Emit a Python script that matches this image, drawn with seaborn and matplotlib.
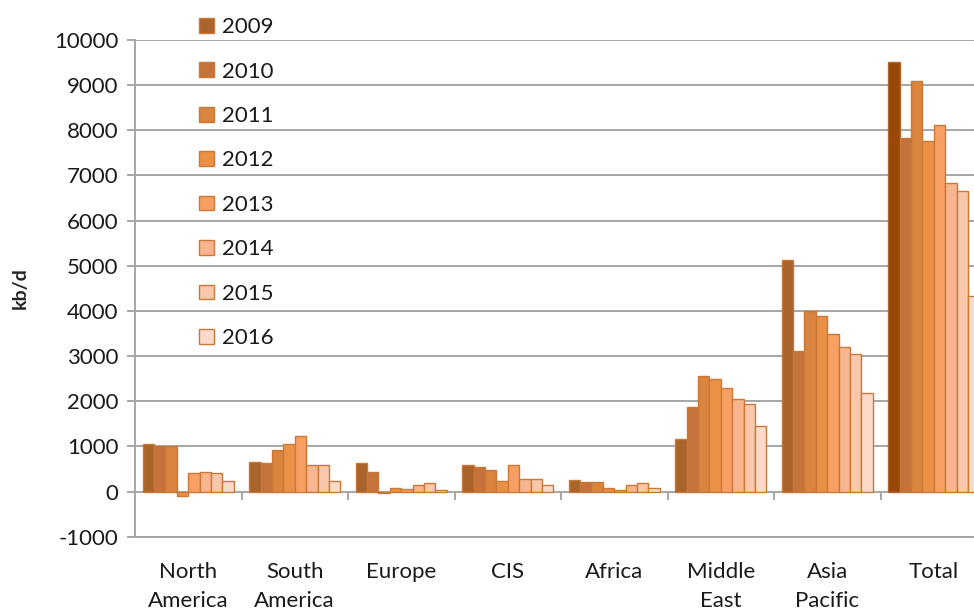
import matplotlib
matplotlib.use("Agg")
import matplotlib.pyplot as plt
import seaborn as sns
import pandas as pd
import numpy as np

regions = ["North\nAmerica", "South\nAmerica", "Europe", "CIS", "Africa",
           "Middle\nEast", "Asia\nPacific", "Total"]
years = ["2009", "2010", "2011", "2012", "2013", "2014", "2015", "2016"]

v2009 = [1055, 664, 642, 590, 250, 1172, 5133, 9513]
v2010 = [1000, 642, 428, 553, 221, 1865, 3104, 7825]
v2011 = [1000, 914, -30, 472, 221, 2551, 3989, 9100]
v2012 = [-90, 1055, 81, 228, 88, 2500, 3879, 7765]
v2013 = [413, 1224, 59, 583, 37, 2300, 3488, 8119]
v2014 = [442, 590, 140, 273, 147, 2050, 3193, 6843]
v2015 = [420, 590, 199, 273, 199, 1940, 3046, 6659]
v2016 = [228, 228, 37, 147, 88, 1445, 2190, 4321]

series = [v2009, v2010, v2011, v2012, v2013, v2014, v2015, v2016]
colors = ["#A9642B", "#C4733A", "#D9843F", "#EB9146", "#F8A064",
          "#F8B590", "#F9C8AC", "#FBDACB"]
highlight_color = "#994808"
edge = "#C97838"

rows = []
for y, vals in zip(years, series):
    for r, v in zip(regions, vals):
        rows.append({"region": r, "year": y, "value": v})
df = pd.DataFrame(rows)

sns.set_style("white")
plt.rcParams["font.family"] = ["Lato", "DejaVu Sans"]
plt.rcParams["axes.unicode_minus"] = False

fig = plt.figure(figsize=(9.74, 6.11), dpi=100)
ax = fig.add_axes([135 / 974, 1 - 536.7 / 611, 852 / 974, (536.7 - 40) / 611])

sns.barplot(data=df, x="region", y="value", hue="year", order=regions,
            hue_order=years, palette=colors, width=0.855, ax=ax,
            edgecolor=edge, linewidth=1, saturation=1, zorder=3,
            legend=True, errorbar=None)

# highlight Total 2009 bar
cont0 = ax.containers[0]
cont0.patches[-1].set_facecolor(highlight_color)
cont0.patches[-1].set_edgecolor("#B0662F")

ax.set_ylim(-1000, 10000)
ax.set_xlim(-0.5, 7.5)
ax.set_yticks(np.arange(-1000, 10001, 1000))
ax.yaxis.grid(True, color="#A6A6A6", linewidth=1.4, zorder=0)
ax.set_axisbelow(True)
for s in ["top", "right"]:
    ax.spines[s].set_visible(False)
for s in ["left", "bottom"]:
    ax.spines[s].set_color("#A6A6A6")
    ax.spines[s].set_linewidth(1.4)

ax.tick_params(axis="y", length=6, width=1.4, color="#A6A6A6", labelsize=16,
               labelcolor="#1a1a1a", pad=6, left=True)
ax.tick_params(axis="x", length=0, labelsize=16, labelcolor="#1a1a1a", pad=18)
for lbl in ax.get_xticklabels():
    lbl.set_linespacing(1.6)

# category tick marks at zero line
ax.vlines(np.arange(0.5, 7.5, 1.0), -190, 0, color="#A6A6A6", linewidth=1.4, zorder=2)

ax.set_xlabel("")
ax.set_ylabel("kb/d", fontsize=14, fontweight="bold", labelpad=18)

handles, labels = ax.get_legend_handles_labels()
ax.legend_.remove()
leg = fig.legend(handles, labels, loc="upper left", bbox_to_anchor=(188 / 974, 1 - 6 / 611),
                 frameon=False, fontsize=16, labelspacing=1.1,
                 handlelength=0.65, handleheight=0.65, handletextpad=0.4,
                 borderpad=0)
for t in leg.get_texts():
    t.set_color("#1a1a1a")

fig.savefig("out.png", dpi=100)
